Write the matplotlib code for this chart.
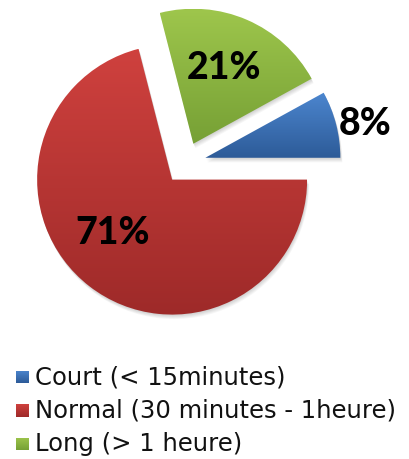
import matplotlib
matplotlib.use("Agg")
import matplotlib.pyplot as plt
import numpy as np
from matplotlib.colors import LinearSegmentedColormap
from matplotlib.patches import PathPatch, Rectangle
from matplotlib.path import Path

categories = ["Court (< 15minutes)", "Normal (30 minutes - 1heure)", "Long (> 1 heure)"]
values = [8, 71, 21]
pct_labels = ["8%", "71%", "21%"]

top_colors = ["#4C86CF", "#CF413E", "#9EC64C"]
bottom_colors = ["#2D5B98", "#9E2A29", "#76A035"]

W, H = 409, 459
fig = plt.figure(figsize=(W / 100, H / 100), dpi=100)
ax = fig.add_axes([0, 0, 1, 1])

center = (185, H - 163)
radius = 135
explode = [21, 21, 21]

wedges, _ = ax.pie(values, startangle=28.8, counterclock=False, explode=explode,
                   center=center, radius=radius, wedgeprops=dict(linewidth=0))
ax.set_xlim(0, W)
ax.set_ylim(0, H)
ax.set_aspect('equal')
ax.axis('off')


def gradient_fill(patch, ctop, cbot, zorder=2):
    path = patch.get_path()
    ext = path.get_extents(patch.get_patch_transform())
    cmap = LinearSegmentedColormap.from_list("g", [cbot, ctop])
    grad = np.linspace(0, 1, 256).reshape(-1, 1)
    im = ax.imshow(grad, cmap=cmap, origin='lower', aspect='auto',
                   extent=[ext.x0, ext.x1, ext.y0, ext.y1], zorder=zorder,
                   interpolation='bilinear')
    im.set_clip_path(patch)
    patch.set_facecolor('none')
    patch.set_edgecolor('none')


for w, ct, cb in zip(wedges, top_colors, bottom_colors):
    p = w.get_path()
    for k in range(1, 6):
        verts = p.vertices + np.array([0.4 * k, -0.9 * k])
        sh = PathPatch(Path(verts, p.codes), facecolor='black', edgecolor='none',
                       alpha=0.035, zorder=1)
        ax.add_patch(sh)
    w.set_zorder(2)
    gradient_fill(w, ct, cb)

# percentage labels (pixel layout positions)
label_pos = [(365, 124), (113, 233), (224, 68)]
for (px, py), t in zip(label_pos, pct_labels):
    ax.text(px, H - py, t, ha='center', va='center', fontsize=27,
            fontweight=900, family='Lato', color='black', zorder=5)

# legend
for i, (cat, ct, cb) in enumerate(zip(categories, top_colors, bottom_colors)):
    yc = H - (377 + i * 33.5)
    sq = Rectangle((16, yc - 6.5), 13, 13, facecolor='none', edgecolor='none')
    ax.add_patch(sq)
    gradient_fill(sq, ct, cb, zorder=3)
    ax.text(35, yc, cat, ha='left', va='center', fontsize=17.5,
            family='DejaVu Sans', color='#111111')

fig.savefig("out.png", dpi=100)
